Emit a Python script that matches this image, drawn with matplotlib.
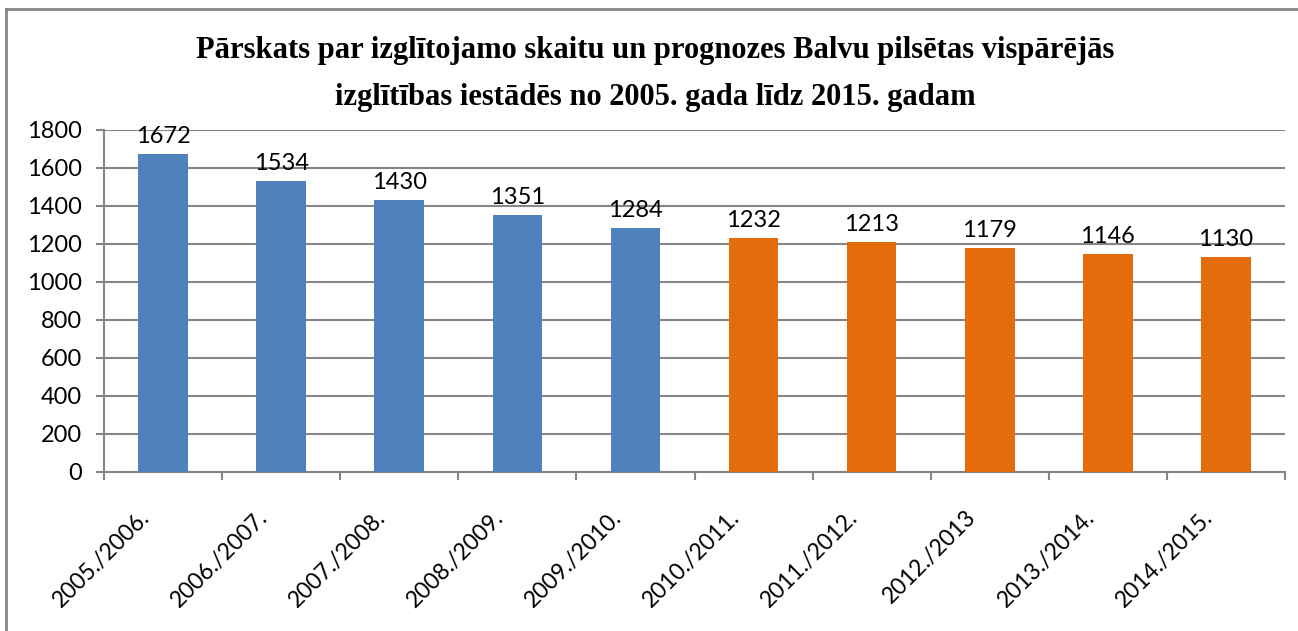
import numpy as np
import matplotlib.pyplot as plt
from matplotlib.lines import Line2D

years = ['2005./2006.', '2006./2007.', '2007./2008.', '2008./2009.', '2009./2010.',
         '2010./2011.', '2011./2012.', '2012./2013', '2013./2014.', '2014./2015.']
students = [1672, 1534, 1430, 1351, 1284, 1232, 1213, 1179, 1146, 1130]
colors = ['#4F81BD'] * 5 + ['#E46C0A'] * 5

title = ('Pārskats par izglītojamo skaitu un prognozes Balvu pilsētas vispārējās\n'
         'izglītības iestādēs no 2005. gada līdz 2015. gadam')

grid_col = '#868686'
W, H = 1298, 631
fig = plt.figure(figsize=(W / 100, H / 100), dpi=100)
ax = fig.add_axes([104 / W, 1 - 472 / H, 1181 / W, 342 / H])

x = np.arange(len(years))
bars = ax.bar(x, students, width=0.42, color=colors, zorder=3)
ax.bar_label(bars, labels=[str(v) for v in students], padding=5,
             fontsize=17, family='Lato', color='black')

ax.set_xlim(-0.5, len(years) - 0.5)
ax.set_ylim(0, 1800)
ax.set_yticks(np.arange(0, 1801, 200))
ax.yaxis.grid(True, color=grid_col, linewidth=1.5, zorder=0)
ax.tick_params(axis='y', length=6, width=1.5, color=grid_col, pad=10,
               labelsize=17)
for lab in ax.get_yticklabels():
    lab.set_family('Lato')

# tick marks sit on category boundaries, labels drawn separately
ax.set_xticks(np.arange(-0.5, len(years)), labels=[])
ax.tick_params(axis='x', length=6, width=1.5, color=grid_col)
for i, yr in enumerate(years):
    ax.annotate(yr, xy=(i, 0), xycoords=('data', 'axes fraction'),
                xytext=(-17, -42), textcoords='offset pixels',
                rotation=45, ha='right', va='center', rotation_mode='anchor',
                fontsize=16.5, family='Lato')

for s in ['top', 'right']:
    ax.spines[s].set_visible(False)
for s in ['left', 'bottom']:
    ax.spines[s].set_color(grid_col)
    ax.spines[s].set_linewidth(1.5)

fig.text(655 / W, 1 - 74 / H, title, ha='center', va='center',
         fontsize=22, fontweight='bold', family='Liberation Serif',
         linespacing=1.85)

# chart frame
fig.add_artist(Line2D([6 / W, 6 / W], [0, 1 - 9 / H], color=grid_col, lw=2,
                      transform=fig.transFigure))
fig.add_artist(Line2D([6 / W, 1], [1 - 9 / H, 1 - 9 / H], color=grid_col, lw=2,
                      transform=fig.transFigure))

fig.savefig('out.png', dpi=100)
